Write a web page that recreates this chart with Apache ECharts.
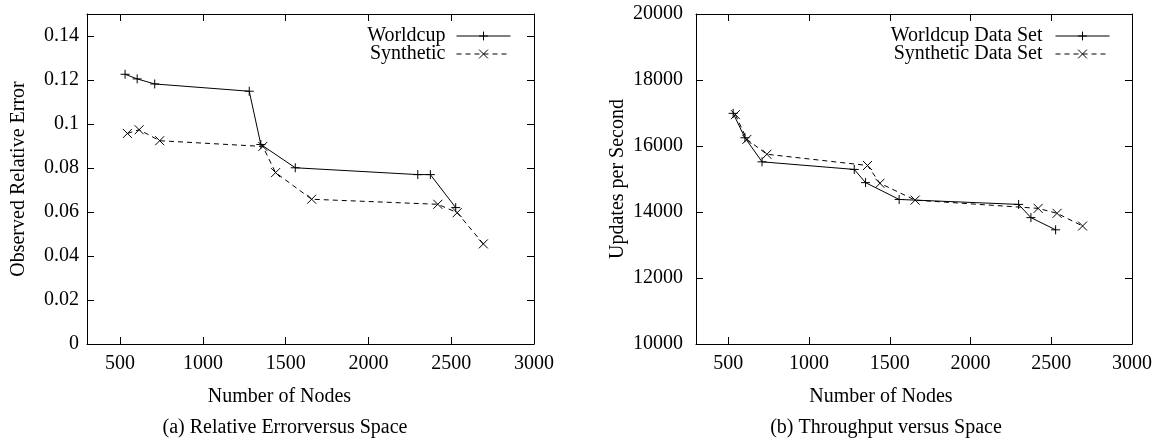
<!DOCTYPE html>
<html>
<head>
<meta charset="utf-8">
<script src="https://cdn.jsdelivr.net/npm/echarts@6/dist/echarts.min.js"></script>
<style>
html,body{margin:0;padding:0;background:#fff;}
#chart{width:1160px;height:438px;}
</style>
</head>
<body>
<div id="chart"></div>
<script>
// ---- data ----
const worldcupNodes = [530, 603, 709, 1280, 1350, 1558, 2298, 2374, 2527];
const syntheticNodes = [544, 615, 739, 1362, 1439, 1657, 2419, 2536, 2694];
const errorWorldcup = [0.1226, 0.1205, 0.1182, 0.1149, 0.0907, 0.0801, 0.0770, 0.0770, 0.0620];
const errorSynthetic = [0.0957, 0.0974, 0.0924, 0.0898, 0.0779, 0.0658, 0.0635, 0.0597, 0.0455];
const throughputWorldcup = [16990, 16250, 15520, 15290, 14890, 14380, 14230, 13830, 13460];
const throughputSynthetic = [16950, 16200, 15750, 15410, 14870, 14360, 14110, 13960, 13575];
const xTicks = [500, 1000, 1500, 2000, 2500, 3000];
const errorTicks = [0, 0.02, 0.04, 0.06, 0.08, 0.1, 0.12, 0.14];
const throughputTicks = [10000, 12000, 14000, 16000, 18000, 20000];
const legendLeft = ['Worldcup', 'Synthetic'];
const legendRight = ['Worldcup Data Set', 'Synthetic Data Set'];

const FONT = '"Liberation Serif", "Times New Roman", serif';
const FS = 20;
const PLUS = 'path://M5,0L5,10M0,5L10,5';
const CROSS = 'path://M0,0L10,10M10,0L0,10';

function pairs(xs, ys) { return xs.map((x, i) => [x, ys[i]]); }

function xAxes(gridIndex, centerShift) {
  const common = {
    type: 'value', gridIndex, min: 300, max: 3000,
    splitLine: {show: false},
    axisLine: {show: true, onZero: false, lineStyle: {color: '#000', width: 1}},
    axisTick: {show: true, inside: true, length: 7, customValues: xTicks, lineStyle: {color: '#000', width: 1}}
  };
  return [
    Object.assign({}, common, {
      position: 'bottom',
      name: 'Number of Nodes', nameLocation: 'middle', nameGap: 43,
      nameTextStyle: {fontFamily: FONT, fontSize: FS, color: '#000', padding: [0, centerShift, 0, 0]},
      axisLabel: {show: true, customValues: xTicks, margin: 10, fontFamily: FONT, fontSize: FS, color: '#000', formatter: v => String(v)}
    }),
    Object.assign({}, common, {position: 'top', axisLabel: {show: false}})
  ];
}

function yAxes(gridIndex, min, max, ticks, name, nameGap, margin) {
  const common = {
    type: 'value', gridIndex, min, max,
    splitLine: {show: false},
    axisLine: {show: true, onZero: false, lineStyle: {color: '#000', width: 1}},
    axisTick: {show: true, inside: true, length: 7, customValues: ticks, lineStyle: {color: '#000', width: 1}}
  };
  return [
    Object.assign({}, common, {
      position: 'left',
      name, nameLocation: 'middle', nameGap, nameRotate: 90,
      nameTextStyle: {fontFamily: FONT, fontSize: FS, color: '#000'},
      axisLabel: {show: true, customValues: ticks, margin, fontFamily: FONT, fontSize: FS, color: '#000', formatter: v => String(v)}
    }),
    Object.assign({}, common, {position: 'right', axisLabel: {show: false}})
  ];
}

function series(name, xi, yi, xs, ys, symbol, dashed) {
  return {
    name, type: 'line', xAxisIndex: xi, yAxisIndex: yi,
    data: pairs(xs, ys),
    symbol, symbolSize: 9, showSymbol: true,
    lineStyle: {color: '#000', width: 1, type: dashed ? [5, 4] : 'solid'},
    itemStyle: {color: '#000', borderColor: '#000', borderWidth: 1},
    emphasis: {disabled: true},
    animation: false
  };
}

function legend(name, right, top, gapRight, dashed) {
  return {
    data: [name], right, top, orient: 'vertical', align: 'right',
    padding: 0, itemWidth: 54, itemHeight: 11,
    itemStyle: {color: '#000', borderWidth: 1, borderColor: '#000'},
    lineStyle: {color: '#000', width: 1, type: dashed ? [5, 4] : 'solid'},
    textStyle: {fontFamily: FONT, fontSize: FS, color: '#000', padding: [0, gapRight, 0, 0]},
    selectedMode: false
  };
}

const xa = xAxes(0, 62).concat(xAxes(1, 66));
const ya = yAxes(0, 0, 0.15, errorTicks, 'Observed Relative Error', 58, 8)
  .concat(yAxes(1, 10000, 20000, throughputTicks, 'Updates per Second', 68, 13));

const option = {
  animation: false,
  backgroundColor: '#fff',
  title: [
    {text: '(a) Relative Errorversus Space', left: 280, top: 413, textAlign: 'center',
     textStyle: {fontFamily: FONT, fontSize: FS, fontWeight: 'normal', color: '#000'}},
    {text: '(b) Throughput versus Space', left: 881, top: 413, textAlign: 'center',
     textStyle: {fontFamily: FONT, fontSize: FS, fontWeight: 'normal', color: '#000'}}
  ],
  grid: [
    {left: 87, right: 626, top: 14, bottom: 94},
    {left: 696, right: 28, top: 14, bottom: 94}
  ],
  xAxis: xa,
  yAxis: ya,
  legend: [
    legend(legendLeft[0], 649, 26, 6, false),
    legend(legendLeft[1], 649, 44, 6, true),
    legend(legendRight[0], 50, 26, 8, false),
    legend(legendRight[1], 50, 44, 8, true)
  ],
  series: [
    series(legendLeft[0], 0, 0, worldcupNodes, errorWorldcup, PLUS, false),
    series(legendLeft[1], 0, 0, syntheticNodes, errorSynthetic, CROSS, true),
    series(legendRight[0], 2, 2, worldcupNodes, throughputWorldcup, PLUS, false),
    series(legendRight[1], 2, 2, syntheticNodes, throughputSynthetic, CROSS, true)
  ]
};

const chart = echarts.init(document.getElementById('chart'), null, {renderer: 'canvas'});
chart.setOption(option);
</script>
</body>
</html>
